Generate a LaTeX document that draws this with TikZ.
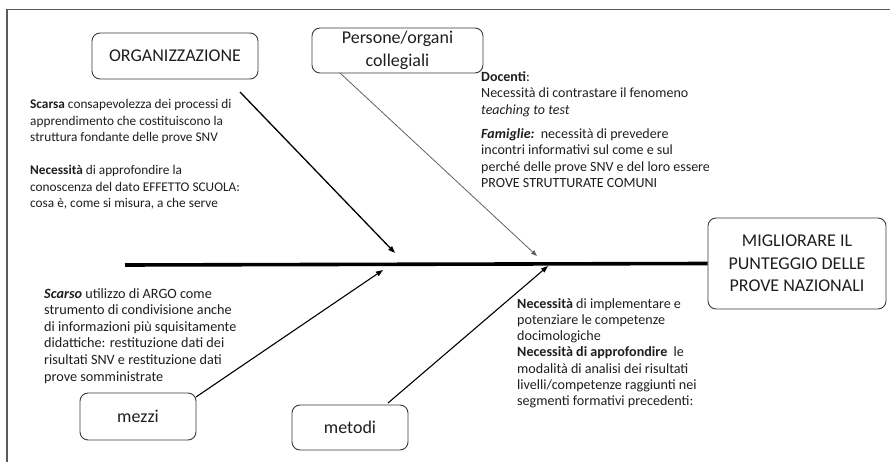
\documentclass[tikz,border=0pt]{standalone}
\usepackage{fontspec}
\setmainfont{Carlito}
\usetikzlibrary{arrows.meta}
\definecolor{ink}{HTML}{1E1E1E}
\definecolor{edge}{HTML}{3A3A3A}
\definecolor{frameline}{HTML}{5A5A5A}
\begin{document}
\begin{tikzpicture}[x=1pt,y=-1pt,
  catbox/.style={draw=edge,line width=0.9pt,rounded corners=8pt,
    font=\fontsize{18}{22.5}\selectfont,text=ink,align=center,inner sep=0pt},
  note/.style={anchor=north west,inner sep=0pt,align=left,text=ink,
    font=\fontsize{14}{16.5}\selectfont},
  bone/.style={draw=black,line width=1.3pt,-{Triangle[length=7pt,width=5pt]}},
  thinbone/.style={draw=edge!80,line width=0.8pt,-{Triangle[length=6pt,width=4.5pt]}},
  spine/.style={draw=black,line width=3.6pt}]
\useasboundingbox (0,0) rectangle (890,462);

% outer frame (top and left edges)
\draw[frameline,line width=1.6pt] (7,462) -- (7,9.5) -- (890,9.5);

% category boxes
\node[catbox,minimum width=166pt,minimum height=46pt] (org) at (175,56) {ORGANIZZAZIONE};
\node[catbox,minimum width=171pt,minimum height=45pt] (pers) at (397.5,50.5) {Persone/organi\\collegiali};
\node[catbox,minimum width=116pt,minimum height=47pt] (mezzi) at (138,416.5) {mezzi};
\node[catbox,minimum width=116pt,minimum height=45pt] (metodi) at (350,427.5) {metodi};
\node[catbox,minimum width=178pt,minimum height=91pt] (goal) at (797,263.5) {MIGLIORARE IL\\PUNTEGGIO DELLE\\PROVE NAZIONALI};

% spine and bone end points
\coordinate (spine-start) at (125,265);
\coordinate (org-tail) at (240,92);
\coordinate (org-tip) at (395,253);
\coordinate (pers-tail) at (340,73);
\coordinate (pers-tip) at (537,256);
\coordinate (mezzi-tail) at (196,397);
\coordinate (mezzi-tip) at (383,270);
\coordinate (metodi-tail) at (388,403);
\coordinate (metodi-tip) at (548,266);

\draw[spine] (spine-start) -- (goal.west);
\draw[bone] (org-tail) -- (org-tip);
\draw[thinbone] (pers-tail) -- (pers-tip);
\draw[bone,line width=1.1pt] (mezzi-tail) -- (mezzi-tip);
\draw[bone,line width=1.1pt] (metodi-tail) -- (metodi-tip);

% cause notes
\node[note,font=\fontsize{13.3}{16.5}\selectfont] (org-note) at (30,99.5) {\textbf{Scarsa} consapevolezza dei processi di\\
apprendimento che costituiscono la\\
struttura fondante delle prove SNV\\[16.5pt]
\textbf{Necessità} di approfondire la\\
conoscenza del dato EFFETTO SCUOLA:\\
cosa è, come si misura, a che serve};

\node[note] (pers-note) at (481,71) {\textbf{Docenti}:\\
Necessità di contrastare il fenomeno\\
\textit{teaching to test}\\[7.5pt]
\textbf{\textit{Famiglie:}}\ \ necessità di prevedere\\
incontri informativi sul come e sul\\
perché delle prove SNV e del loro essere\\
PROVE STRUTTURATE COMUNI};

\node[note,font=\fontsize{14.2}{16.6}\selectfont] (mezzi-note) at (44,288) {\textbf{\textit{Scarso}} utilizzo di ARGO come\\
strumento di condivisione anche\\
di informazioni più squisitamente\\
didattiche: restituzione dati dei\\
risultati SNV e restituzione dati\\
prove somministrate};

\node[note,font=\fontsize{14.1}{16.3}\selectfont] (metodi-note) at (517,298) {\textbf{Necessità} di implementare e\\
potenziare le competenze\\
docimologiche\\
\textbf{Necessità di approfondire}\ \ le\\
modalità di analisi dei risultati\\
livelli/competenze raggiunti nei\\
segmenti formativi precedenti:};
\end{tikzpicture}
\end{document}
